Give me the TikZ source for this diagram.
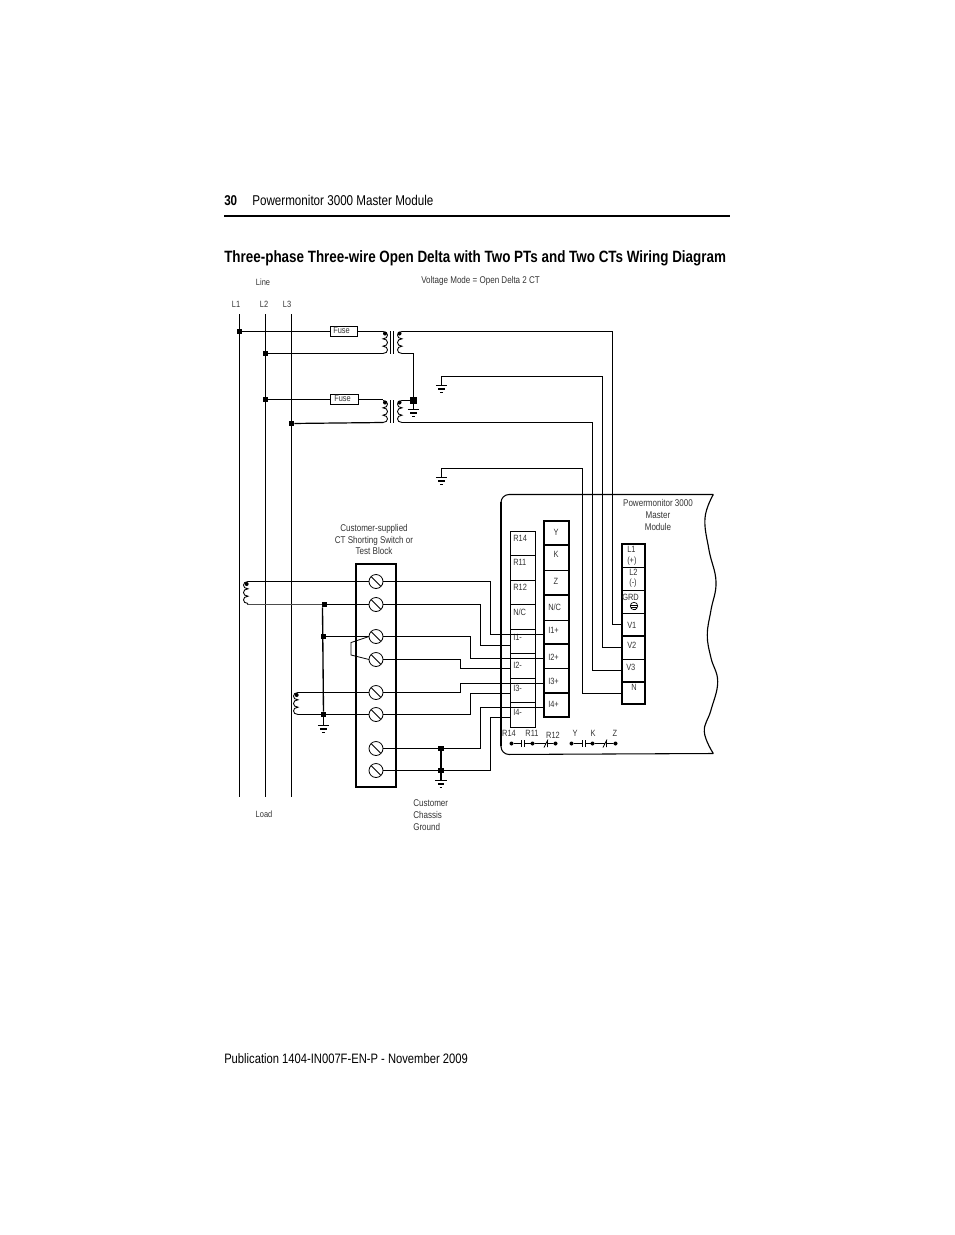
\documentclass[tikz,border=0pt]{standalone}
\usepackage{fontspec}
\setmainfont[FakeStretch=0.82]{Liberation Sans}
\usetikzlibrary{calc}
\tikzset{
  wire/.style={line width=0.9pt,line join=miter},
  sm/.style={font=\fontsize{6.8}{8.8}\selectfont,inner sep=0pt,text=black!80},
  lg/.style={font=\fontsize{7.35}{8.8}\selectfont,inner sep=0pt,text=black!80},
  lab/.style={sm,anchor=west},
  cell/.style={draw,line width=0.85pt,minimum width=#1,inner sep=0pt,outer sep=0pt,anchor=north west},
  screw/.style={circle,draw,line width=0.6pt,minimum size=10.5pt,inner sep=0pt,outer sep=0pt},
  jct/.style={rectangle,fill=black,minimum size=4.2pt,inner sep=0pt,outer sep=0pt},
  bigjct/.style={rectangle,fill=black,minimum size=5.2pt,inner sep=0pt,outer sep=0pt},
  bul/.style={circle,fill=black,minimum size=3pt,inner sep=0pt,outer sep=0pt},
  fuse/.style={draw,line width=0.7pt,minimum width=20.5pt,minimum height=7.4pt,inner sep=0pt,outer sep=0pt},
}
\newcommand{\coilat}[3]{\begin{scope}[shift={(#1,#2)},xscale=#3]
 \draw[line width=0.65pt] (0,0) .. controls (6,0) and (6,7.3) .. (0,7.3) .. controls (6,7.3) and (6,14.7) .. (0,14.7) .. controls (6,14.7) and (6,22) .. (0,22);
 \end{scope}}
\newcommand{\gndat}[1]{\begin{scope}[shift={(#1)}]
 \draw[wire] (-5.7,0) -- (5.7,0); \draw[wire] (-3.2,3.5) -- (3.2,3.5); \draw[wire] (-1.3,7) -- (1.3,7);
 \end{scope}}
\begin{document}
\begin{tikzpicture}[x=0.75pt,y=-0.75pt]
\useasboundingbox (0,0) rectangle (954,1235);
% page furniture
\node[anchor=base west,inner sep=0pt,font=\fontsize{10.65}{13}\selectfont\bfseries] (pg) at (224,205) {30};
\node[anchor=base west,inner sep=0pt,font=\fontsize{10.65}{13}\selectfont] (hd) at (252,205) {Powermonitor 3000 Master Module};
\coordinate (ruleA) at (224,216); \coordinate (ruleB) at (730,216);
\draw[line width=2.2pt] (ruleA) -- (ruleB);
\node[anchor=base west,inner sep=0pt,font=\fontsize{12.28}{14}\selectfont\bfseries] (ttl) at (224,262) {Three-phase Three-wire Open Delta with Two PTs and Two CTs Wiring Diagram};
\node[anchor=base west,inner sep=0pt,font=\fontsize{10.25}{13}\selectfont] (pub) at (224,1063) {Publication 1404-IN007F-EN-P - November 2009};
% top labels
\node[sm] (tline) at (263,282) {Line};
\node[lg,anchor=west] (tmode) at (421,281) {Voltage Mode = Open Delta 2 CT};
\node[sm] (tl1) at (236,304) {L1};
\node[sm] (tl2) at (264,304) {L2};
\node[sm] (tl3) at (287,304) {L3};
\node[sm] (tload) at (264,814) {Load};
\node[lg,align=center] (tcust) at (374,539.5) {Customer-supplied\\CT Shorting Switch or\\Test Block};
\node[lg,align=left,anchor=north west] (tchas) at (413,799.5) {Customer\\Chassis\\Ground};
\node[lg,align=center] (tpm) at (658,515) {Powermonitor 3000\\Master\\Module};
% phase lines
\coordinate (L1t) at (239.5,314); \coordinate (L1b) at (239.5,796.7);
\coordinate (L2t) at (265.5,314); \coordinate (L2b) at (265.5,796.7);
\coordinate (L3t) at (291.5,314); \coordinate (L3b) at (291.5,796.7);
\draw[wire] (L1t) -- (L1b); \draw[wire] (L2t) -- (L2b); \draw[wire] (L3t) -- (L3b);
% junctions on lines
\node[jct] (j1) at (239.5,331.5) {};
\node[jct] (j2) at (265.5,353.5) {};
\node[jct] (j3) at (265.5,399.5) {};
\node[jct] (j4) at (291.5,423.5) {};
\node[bigjct] (j5) at (413.5,400.5) {};
% fuses
\node[fuse] (f1) at (344,331.5) {};
\node[fuse] (f2) at (344.5,399.5) {};
\node[lab] (ft1) at (333,330.8) {Fuse};
\node[lab] (ft2) at (334,398.8) {Fuse};
% transformers
\coilat{383}{331.5}{1}\coilat{402}{331.5}{-1}
\coilat{383}{400.5}{1}\coilat{402}{400.5}{-1}
\node[bul] (d1) at (385,333.5) {}; \node[bul] (d2) at (399.5,333.5) {};
\node[bul] (d3) at (385,402.5) {}; \node[bul] (d4) at (399.5,402.5) {};
\draw[line width=0.65pt] (390.5,331) -- (390.5,354) (393.5,331) -- (393.5,354);
\draw[line width=0.65pt] (390.5,400) -- (390.5,422.5) (393.5,400) -- (393.5,422.5);
\coordinate (p1a) at (383,331.5); \coordinate (p1b) at (383,353.5);
\coordinate (p2a) at (383,399.5); \coordinate (p2b) at (383,422.5);
\coordinate (q1a) at (402,331.5); \coordinate (q1b) at (402,353.5);
\coordinate (q2a) at (402,400.5); \coordinate (q2b) at (402,422.5);
\draw[wire] (j1) -- (f1); \draw[wire] (f1) -- (p1a);
\draw[wire] (j2) -- (p1b);
\draw[wire] (j3) -- (f2); \draw[wire] (f2) -- (p2a);
\draw[wire] (j4) -- (p2b);
\draw[wire] (q1b) -| (j5);
\draw[wire] (q2a) -- (j5);
\coordinate (g1) at (413.5,409.5);
\draw[wire] (j5) -- (g1); \gndat{g1}
% module outline
\draw[line width=0.8pt,rounded corners=6pt] (713.3,494.5) -- (501,494.5) -- (501,754.5) -- (713.3,753.5);
\draw[line width=1.3pt] (501,502) -- (501,746);
\draw[line width=0.85pt] plot[smooth,tension=0.7] coordinates {(713.3,494.5) (705,518) (709,550) (716,581.7) (711,610) (707.3,635) (711,658) (717.7,681.7) (711,710) (704.3,731.7) (713.3,753.5)};
% left column
\foreach \nm/\yt/\yb in {cR/531.5/555.5,cRa/555.5/580.5,cRb/580.5/604.5,cNa/604.5/629.5,cIa/629.5/653.5,cIb/653.5/678.5,cIc/678.5/702.5,cId/702.5/727.5}{
  \pgfmathsetmacro{\hh}{(\yb-\yt)*0.75}
  \node[cell=18.75pt,minimum height=\hh pt,line width=0.7pt] (\nm) at (510.5,\yt) {};
}
\foreach \t/\yy in {R14/538,R11/562,R12/587,N\slash C/612,I1-/637,I2-/665,I3-/688,I4-/712}{\node[lab] at (513,\yy) {\t};}
% middle column
\foreach \nm/\yt/\yb in {mY/521/545,mK/545/570.5,mZ/570.5/595,mN/595/620.5,mIa/620.5/644,mIb/644/668.5,mIc/668.5/693,mId/693/717}{
  \pgfmathsetmacro{\hh}{(\yb-\yt)*0.75}
  \node[cell=18.75pt,minimum height=\hh pt] (\nm) at (544,\yt) {};
}
\foreach \a/\b in {mY/mK,mZ/mN,mIa/mIb,mIc/mId}{\draw[line width=1.2pt] (\a.south west) -- (\a.south east);}
\node[sm] (ty) at (556,532) {Y}; \node[sm] (tk) at (556,554) {K}; \node[sm] (tz) at (556,581) {Z};
\foreach \t/\yy in {N\slash C/607,I1+/630,I2+/657,I3+/681,I4+/704}{\node[lab] at (548,\yy) {\t};}
% right block
\foreach \nm/\yt/\yb in {bA/544/567.5,bB/567.5/590.5,bG/590.5/613.5,bV/613.5/636,bW/636/659.5,bX/659.5/682,bN/682/704}{
  \pgfmathsetmacro{\hh}{(\yb-\yt)*0.75}
  \node[cell=17.25pt,minimum height=\hh pt,line width=0.7pt] (\nm) at (622,\yt) {};
}
\draw[line width=1.2pt] (bA.north west) -- (bN.south west) -- (bN.south east) -- (bA.north east) -- cycle;
\draw[line width=1.2pt] (bV.south west) -- (bV.south east);
\draw[line width=1.2pt] (bX.south west) -- (bX.south east);
\node[lab] at (627,549) {L1}; \node[lab] at (627,561) {(+)}; \node[lab] at (629,572) {L2}; \node[lab] at (629,583) {(-)};
\node[lab] at (622,597) {GRD}; \node[lab] at (627,625) {V1}; \node[lab] at (627,645) {V2}; \node[lab] at (626,667) {V3}; \node[sm] at (634,687) {N};
\node[circle,draw,line width=0.5pt,minimum size=5.6pt,inner sep=0pt] (cg) at (634,606) {};
\draw[line width=0.5pt] (630,605) -- (638,605) (631,607) -- (637,607) (632.5,609) -- (635.5,609);
% ground feeds to the module
\coordinate (gA) at (441.5,376.5); \coordinate (gB) at (441.5,468.5);
\coordinate (gA2) at (441.5,385.5); \coordinate (gB2) at (441.5,477.5);
\draw[wire] (gA2) -- (gA) -| (602.5,647.5) -- (622,647.5);
\draw[wire] (gB2) -- (gB) -| (582.5,693.5) -- (622,693.5);
\gndat{gA2}\gndat{gB2}
\draw[wire] (q1a) -| (612.5,624.5) -- (622,624.5);
\draw[wire] (q2b) -| (592.5,670.5) -- (622,670.5);
% terminal block
\node[draw,line width=1.2pt,minimum width=30pt,minimum height=167.25pt,inner sep=0pt,outer sep=0pt,anchor=north west] (tb) at (356,564) {};
\foreach \nm/\yy in {s1/581.5,s2/604.5,s3/636.5,s4/659.5,s5/692.5,s6/714.5,s7/748.5,s8/770.5}{
  \node[screw] (\nm) at (376,\yy) {};
  \draw[line width=0.6pt] (\nm.north west) -- (\nm.south east);
}
% CTs
\coilat{248}{581.5}{-1}\coilat{298}{692.5}{-1}
\node[bul] (d5) at (246.7,584) {}; \node[bul] (d6) at (296.7,695) {};
\coordinate (ct1a) at (248,581.5); \coordinate (ct1b) at (248,603.5);
\coordinate (ct2a) at (298,692.5); \coordinate (ct2b) at (298,714.5);
\node[jct] (k1) at (324.5,604.5) {};
\node[jct] (k2) at (323.5,636.5) {};
\node[jct] (k3) at (323.5,714.5) {};
\draw[wire] (ct1a) -- (s1);
\draw[wire,black!70] (ct1b) -- (248,604.5) -- (k1); \draw[wire] (k1) -- (s2);
\draw[wire] (k2) -- (s3);
\draw[wire] (ct2a) -- (s5);
\draw[wire] (ct2b) -- (k3); \draw[wire] (k3) -- (s6);
\coordinate (g2) at (323.5,725.5);
\draw[line width=1pt] (k1.south west) ++(0.8,0) -- (k3); \draw[wire] (k3) -- (g2); \gndat{g2}
\coordinate (jpa) at (351,642.5); \coordinate (jpb) at (351,655);
\draw[line width=0.6pt] (s3.west) -- (jpa) -- (jpb) -- (s4.west);
% chassis ground
\node[jct] (k4) at (441,748.5) {};
\node[jct] (k5) at (441,770.5) {};
\coordinate (g3) at (441,780.5);
\draw[wire] (k4) -- (k5) -- (g3); \gndat{g3}
\draw[wire] (s7) -- (k4); \draw[wire] (s8) -- (k5);
% cross wires to the module
\draw[wire] (s1) -- (490.5,581.5) |- (544,634.5);
\draw[wire] (s2) -- (480.5,604.5) |- (510.5,645.5);
\draw[wire] (s3) -- (470.5,636.5) |- (544,658.5);
\draw[wire] (s4) -- (460.5,659.5) |- (510.5,668.5);
\draw[wire] (s5) -- (460.5,692.5) |- (544,683.5);
\draw[wire] (s6) -- (470.5,714.5) |- (510.5,693.5);
\draw[wire] (k4) -- (480.5,748.5) |- (544,707.5);
\draw[wire] (k5) -- (490.5,770.5) |- (510.5,717.5);
% contacts
\foreach \t/\xx/\yy in {R14/509/733,R11/532/733,R12/553/735,Y/575/733,K/593/733,Z/615/733}{\node[sm] at (\xx,\yy) {\t};}
\foreach \nm/\xx in {c1/511.5,c2/532.5,c3/555.5,c4/571.5,c5/592.5,c6/615.5}{\node[bul] (\nm) at (\xx,743.5) {};}
\draw[line width=0.65pt] (c1) -- (521.5,743.5) (521.5,740) -- (521.5,747) (524.5,740) -- (524.5,747) (524.5,743.5) -- (c2);
\draw[line width=0.65pt] (c2) -- (546,743.5) (544,747.5) -- (548,739.5) (547.5,740) -- (547.5,747) (547.5,743.5) -- (c3);
\draw[line width=0.65pt] (c4) -- (582.5,743.5) (582.5,740) -- (582.5,747) (585.5,740) -- (585.5,747) (585.5,743.5) -- (c5);
\draw[line width=0.65pt] (c5) -- (605,743.5) (603,747.5) -- (607,739.5) (606.5,740) -- (606.5,747) (606.5,743.5) -- (c6);
\end{tikzpicture}
\end{document}
